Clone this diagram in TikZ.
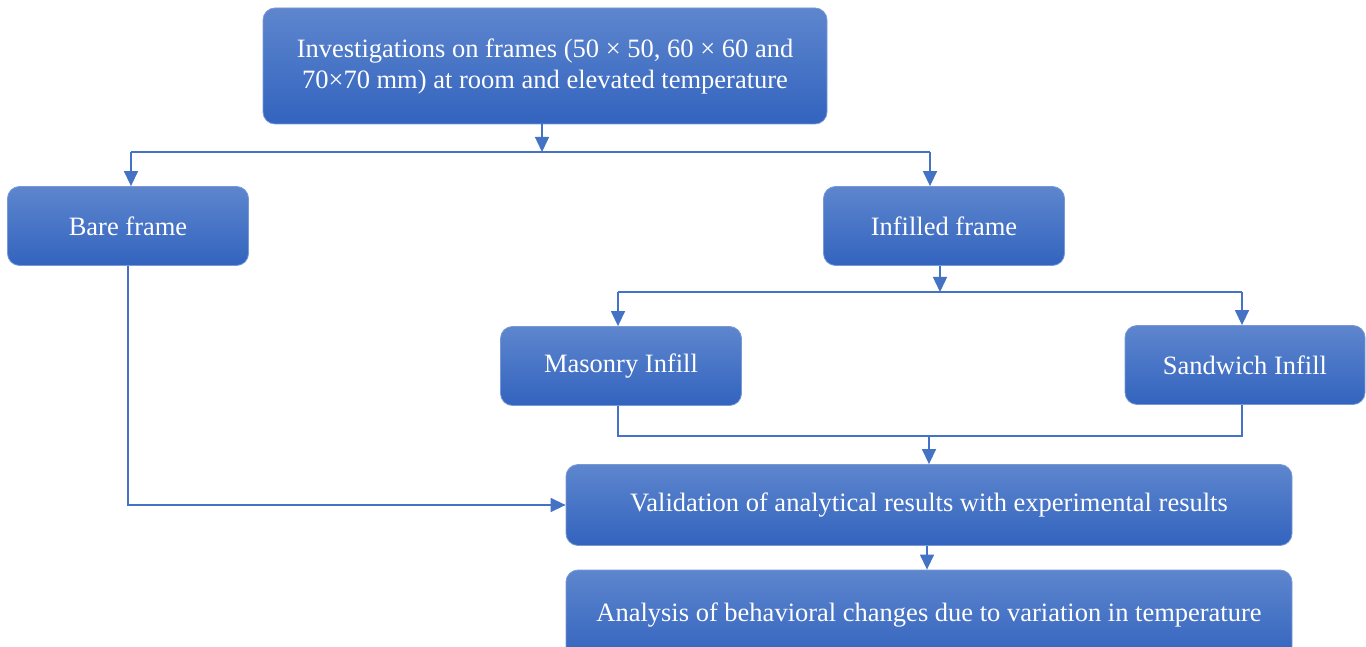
\documentclass[tikz,border=0pt]{standalone}
\usepackage{fontspec}
\setmainfont{Liberation Serif}
\usetikzlibrary{arrows.meta}
\definecolor{boxtop}{RGB}{94,134,206}
\definecolor{boxbot}{RGB}{50,99,190}
\definecolor{boxline}{RGB}{120,152,214}
\definecolor{conn}{RGB}{68,114,196}
\tikzset{
  stagebox/.style={rounded corners=12pt, top color=boxtop, bottom color=boxbot,
    draw=boxline, line width=0.8pt, text=white, inner sep=0pt, align=center,
    font=\fontsize{26.5}{31}\selectfont},
  conline/.style={draw=conn, line width=1.4pt},
  conarr/.style={conline, -{Triangle[width=14pt,length=15pt]}}
}
\begin{document}
\begin{tikzpicture}[x=1pt,y=-1pt]
\clip (0,0) rectangle (1366,647);
\node[stagebox, minimum width=564pt, minimum height=116pt] (top) at (545,66)
  {Investigations on frames (50 × 50, 60 × 60 and\\70×70 mm) at room and elevated temperature};
\node[stagebox, minimum width=241pt, minimum height=79pt] (bare) at (128,226) {Bare frame};
\node[stagebox, minimum width=241pt, minimum height=79pt] (infill) at (944,226) {Infilled frame};
\node[stagebox, minimum width=241pt, minimum height=79pt] (mas) at (621,366) {Masonry Infill};
\node[stagebox, minimum width=240pt, minimum height=79pt] (sand) at (1245,365) {Sandwich Infill};
\node[stagebox, minimum width=726pt, minimum height=81pt] (valid) at (929,505) {Validation of analytical results with experimental results};
\node[stagebox, minimum width=726pt, minimum height=90pt] (anal) at (929,615) {Analysis of behavioral changes due to variation in temperature};
% first bus
\coordinate (bus1) at ([xshift=-3pt]top.south |- 0,152);
\draw[conarr] ([xshift=-3pt]top.south) -- (bus1);
\draw[conline] ([xshift=3pt]bare.north |- bus1) -- ([xshift=-14pt]infill.north |- bus1);
\draw[conarr] ([xshift=3pt]bare.north |- bus1) -- ([xshift=3pt]bare.north);
\draw[conarr] ([xshift=-14pt]infill.north |- bus1) -- ([xshift=-14pt]infill.north);
% second bus
\coordinate (bus2) at ([xshift=-4pt]infill.south |- 0,292);
\draw[conarr] ([xshift=-4pt]infill.south) -- (bus2);
\draw[conline] ([xshift=-3pt]mas.north |- bus2) -- ([xshift=-3pt]sand.north |- bus2);
\draw[conarr] ([xshift=-3pt]mas.north |- bus2) -- ([xshift=-3pt]mas.north);
\draw[conarr] ([xshift=-3pt]sand.north |- bus2) -- ([xshift=-3pt]sand.north);
% merge
\coordinate (bus3) at (valid.north |- 0,436);
\draw[conline] ([xshift=-3pt]mas.south) |- (bus3) -| ([xshift=-3pt]sand.south);
\draw[conarr] (bus3) -- (valid.north);
\draw[conarr] (bare.south) |- (valid.west);
\draw[conarr] ([xshift=-2pt]valid.south) -- ([xshift=-2pt]anal.north);
\end{tikzpicture}
\end{document}
